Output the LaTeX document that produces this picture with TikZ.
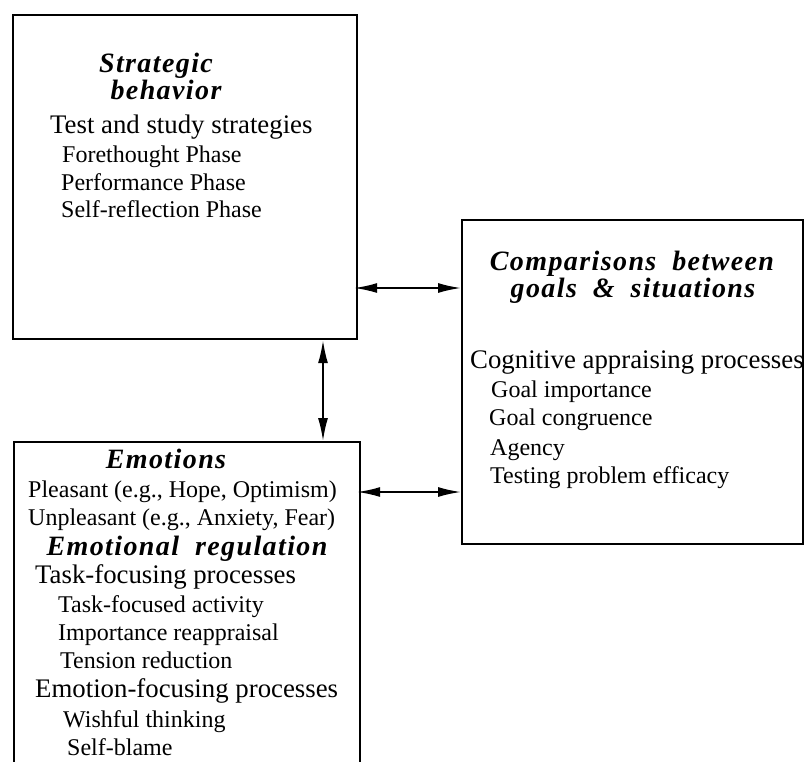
\documentclass[tikz,border=0pt]{standalone}
\usepackage{fontspec}
\setmainfont{Liberation Serif}
\newfontfamily\headfont[LetterSpace=5,WordSpace=1.9]{Liberation Serif}
\usetikzlibrary{arrows.meta}

\tikzset{
  box/.style={draw, line width=2.2pt, inner sep=0pt, anchor=north west},
  mainline/.style={anchor=base west, inner sep=0pt, font=\fontsize{26.8}{30}\selectfont},
  subline/.style={anchor=base west, inner sep=0pt, font=\fontsize{24}{28}\selectfont},
  headline/.style={anchor=base, inner sep=0pt, font=\headfont\bfseries\itshape\fontsize{28}{30}\selectfont},
  link/.style={{Latex[length=23pt,width=10pt]}-{Latex[length=23pt,width=10pt]}, line width=1.8pt}
}

\begin{document}
\begin{tikzpicture}[x=1pt, y=-1pt]
\useasboundingbox (0,0) rectangle (806,761);
\clip (0,0) rectangle (806,761);

% the three boxes
\node[box, minimum width=344pt, minimum height=324pt] (strat) at (12,14) {};
\node[box, minimum width=341pt, minimum height=324pt] (comp) at (461,219) {};
\node[box, minimum width=346pt, minimum height=360pt] (emo) at (13,441) {};

% strategic behaviour
\node[headline] (sh1) at (156,72) {Strategic};
\node[headline] (sh2) at (166,99) {behavior};
\node[mainline] (s0) at (50,133) {Test and study strategies};
\node[subline] (s1) at (62,162) {Forethought Phase};
\node[subline] (s2) at (61,190) {Performance Phase};
\node[subline] (s3) at (61,217) {Self-reflection Phase};

% comparisons
\node[headline] (ch1) at (632,270) {Comparisons between};
\node[headline] (ch2) at (633,297) {goals \& situations};
\node[mainline] (c0) at (470,368) {Cognitive appraising processes};
\node[subline] (c1) at (491,397) {Goal importance};
\node[subline] (c2) at (489,425) {Goal congruence};
\node[subline] (c3) at (490,455) {Agency};
\node[subline] (c4) at (490,483) {Testing problem efficacy};

% emotions
\node[headline] (eh1) at (166,468) {Emotions};
\node[subline] (e1) at (28,497) {Pleasant (e.g., Hope, Optimism)};
\node[subline] (e2) at (28,525) {Unpleasant (e.g., Anxiety, Fear)};
\node[headline] (eh2) at (187,555) {Emotional regulation};
\node[mainline] (e3) at (35,583) {Task-focusing processes};
\node[subline] (e4) at (58,612) {Task-focused activity};
\node[subline] (e5) at (58,640) {Importance reappraisal};
\node[subline] (e6) at (60,668) {Tension reduction};
\node[mainline] (e7) at (35,697) {Emotion-focusing processes};
\node[subline] (e8) at (63,727) {Wishful thinking};
\node[subline] (e9) at (67,755) {Self-blame};

% links between the boxes
\draw[link] ([xshift=-4pt]strat.east |- 0,288) -- (comp.west |- 0,288);
\draw[link] (strat.south -| 323,0) -- (emo.north -| 323,0);
\draw[link] ([xshift=-4pt]emo.east |- 0,492) -- (comp.west |- 0,492);
\end{tikzpicture}
\end{document}
